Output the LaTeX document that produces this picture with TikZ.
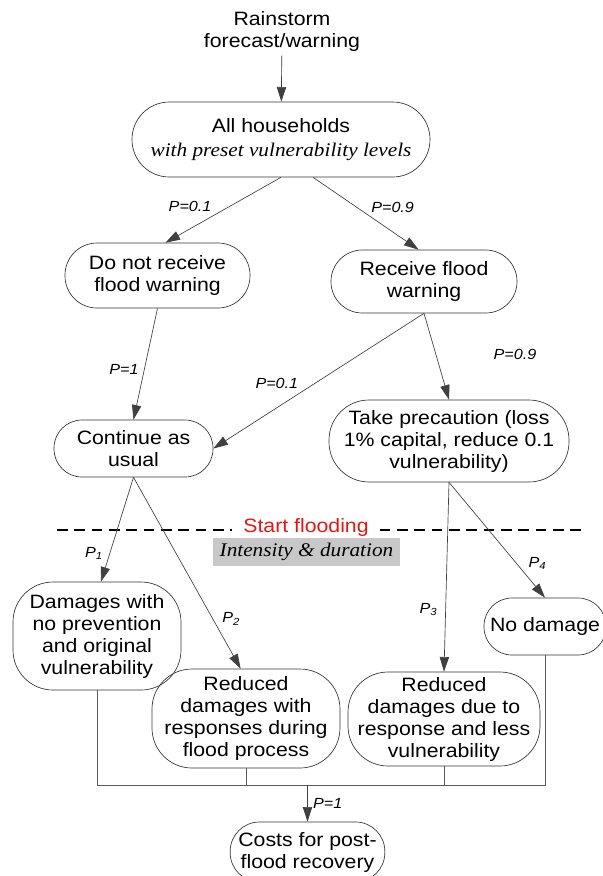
\documentclass[tikz,border=0pt]{standalone}
\usepackage{fontspec}
\setmainfont{Liberation Sans}[FakeStretch=1.1]
\newfontfamily\serifit{Liberation Serif}[FakeStretch=1.1]
\usetikzlibrary{arrows.meta}
\definecolor{floodred}{RGB}{228,22,22}
\definecolor{bandgray}{RGB}{200,200,200}
\tikzset{
  box/.style={draw=black!80, line width=0.5pt, rounded corners=#1, align=center, inner sep=2pt},
  box/.default=24pt,
  plabel/.style={font=\fontsize{11}{13}\selectfont\itshape, inner sep=1pt},
  link/.style={draw=black!75, line width=0.5pt, -{Triangle[length=11pt,width=7pt]}},
  rail/.style={draw=black!65, line width=0.5pt},
}
\begin{document}
\begin{tikzpicture}[x=0.75pt,y=-0.75pt,font=\fontsize{14.5}{16.5}\selectfont]
  \useasboundingbox (0,0) rectangle (603,876);
  \node[align=center] (rain) at (282,31) {Rainstorm\\forecast/warning};
  \node[box=28pt, minimum width=223.5pt, minimum height=56.25pt] (all) at (281,139.5)
    {All households\\[2pt]{\serifit\itshape with preset vulnerability levels}};
  \node[box=24pt, minimum width=138.75pt, minimum height=48.75pt] (nrec) at (157.5,275.5) {Do not receive\\flood warning};
  \node[box=23.5pt, minimum width=139.5pt, minimum height=47.25pt] (rec) at (424,281.5) {Receive flood\\warning};
  \node[box=21pt, minimum width=119.25pt, minimum height=42.75pt] (cont) at (133.5,448.5) {Continue as\\usual};
  \node[box=30pt, minimum width=180pt, minimum height=61.5pt] (take) at (449,441)
    {Take precaution (loss\\1\% capital, reduce 0.1\\vulnerability)};
  \node[box=30pt, minimum width=126pt, minimum height=81pt] (dmg) at (97,636)
    {Damages with\\no prevention\\and original\\vulnerability};
  \node[box=30pt, minimum width=141pt, minimum height=74.25pt] (redw) at (246,718.5)
    {Reduced\\damages with\\responses during\\flood process};
  \node[box=30pt, minimum width=144pt, minimum height=70.5pt] (redd) at (444,719)
    {Reduced\\damages due to\\response and less\\vulnerability};
  \node[box=21pt, minimum width=91.5pt, minimum height=42.75pt] (nod) at (545,626.5) {No damage};
  \node[box=22pt, minimum width=116pt, minimum height=45pt] (costs) at (307.5,852) {Costs for post-\\flood recovery};

  \node[text=floodred, inner xsep=8pt] (start) at (306,527) {Start flooding};
  \node[fill=bandgray, minimum width=140pt, minimum height=21pt, inner sep=1pt,
    font=\serifit\itshape\fontsize{14.5}{16.5}\selectfont] (band) at (306.5,552) {Intensity \& duration};
  \coordinate (dashl) at (57,530);
  \coordinate (dashr) at (581,530);
  \draw[line width=0.9pt, dash pattern=on 8pt off 5pt] (dashl) -- (dashl -| start.west);
  \draw[line width=0.9pt, dash pattern=on 8pt off 5pt] (dashr -| start.east) -- (dashr);

  \draw[link] (rain) -- (all);
  \draw[link] (all.south) -- ([xshift=6pt]nrec.north) node[plabel, pos=0.45, left=12pt] (pa) {P=0.1};
  \draw[link] ([xshift=24pt]all.south) -- ([xshift=-4pt]rec.north) node[plabel, pos=0.41, right=10pt] (pb) {P=0.9};
  \draw[link] (nrec.south) -- (cont.north) node[plabel, pos=0.55, left=3pt] (pc) {P=1};
  \draw[link] (rec.south) -- (cont.east) node[plabel, pos=0.52, left=11pt] (pd) {P=0.1};
  \draw[link] (rec.south) -- (take.north) node[plabel, pos=0.48, right=42pt] (pe) {P=0.9};
  \draw[link] (cont.south) -- ([xshift=3pt]dmg.north) node[plabel, pos=0.73, left=4pt] (pf) {P\textsubscript{1}};
  \draw[link] (cont.south) -- ([xshift=-4pt]redw.north) node[plabel, pos=0.74, right=6pt] (pg) {P\textsubscript{2}};
  \draw[link] (take.south) -- (redd.north) node[plabel, pos=0.67, left=5pt] (ph) {P\textsubscript{3}};
  \draw[link] (take.south) -- (nod.north) node[plabel, pos=0.7, right=8pt] (pi) {P\textsubscript{4}};

  \coordinate (join) at (307.5,785);
  \draw[rail] (dmg.south) |- (join);
  \draw[rail] (nod.south) |- (join);
  \draw[rail] (redw.south) -- (redw.south |- join);
  \draw[rail] (redd.south) -- (redd.south |- join);
  \draw[link] (join) -- (costs.north) node[plabel, midway, right=3pt] (pj) {P=1};
\end{tikzpicture}
\end{document}
